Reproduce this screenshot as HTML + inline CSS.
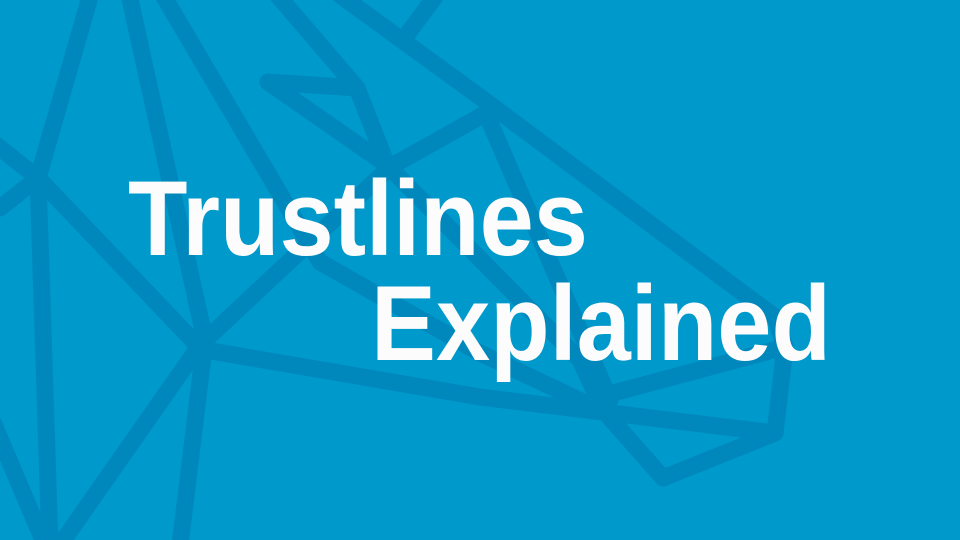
<!DOCTYPE html>
<html><head><meta charset="utf-8"><style>
html,body{margin:0;padding:0}
body{width:960px;height:540px;background:#0099cc;position:relative;overflow:hidden}
svg{position:absolute;left:0;top:0}
.t{position:absolute;color:#fcfcfc;font-family:"Liberation Sans",sans-serif;font-weight:bold;font-size:107px;line-height:1;transform:scaleX(0.91);transform-origin:left top;white-space:nowrap}
</style></head><body>
<svg width="960" height="540" viewBox="0 0 960 540">
<g fill="none" stroke="#0088bc" stroke-width="17" stroke-linecap="round" stroke-linejoin="round">
<polyline points="92,-10 38,178 0,208"/>
<polyline points="-10,140 38,178 200,348"/>
<polyline points="38,178 50,545"/>
<polyline points="-10,415 45,545"/>
<polyline points="128,-10 205,340 180,545"/>
<polyline points="60,545 200,345 390,167 488,112"/>
<polyline points="160,-10 320,262 480,353 600,410"/>
<polyline points="205,350 480,397 603,412 775,433 785,347 613,393"/>
<polyline points="603,410 663,478 775,433"/>
<polyline points="333,-10 480,97 775,317 785,347"/>
<polyline points="440,-10 403,40"/>
<polyline points="273,-10 357,88 268,82 390,167"/>
<polyline points="357,88 387,165 580,360 603,410"/>
<polyline points="488,118 610,400"/>
</g>
</svg>
<div class="t" style="left:128px;top:165px">Trustlines</div>
<div class="t" style="left:371px;top:270px">Explained</div>
</body></html>
